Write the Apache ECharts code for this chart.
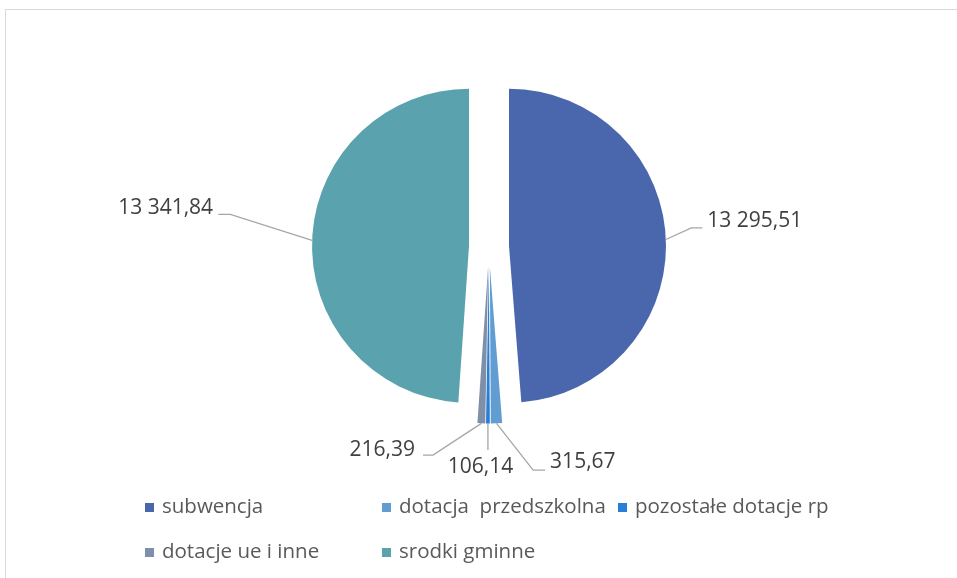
<!DOCTYPE html>
<html><head><meta charset="utf-8">
<script src="https://cdn.jsdelivr.net/npm/echarts@6/dist/echarts.min.js"></script>
<style>html,body{margin:0;padding:0;background:#fff}#c{width:957px;height:578px}</style>
</head><body><div id="c"></div>
<script>
// ---- data ----
const categories = ['subwencja', 'dotacja  przedszkolna', 'pozostałe dotacje rp', 'dotacje ue i inne', 'srodki gminne'];
const values = [13295.51, 315.67, 106.14, 216.39, 13341.84];
const colors = ['#4A66AC', '#629DD1', '#297FD5', '#7F8FA9', '#5AA2AE'];

// ---- layout / style ----
const CX = 489, CY = 246.5, R = 157, EXPLODE = 20;
const FONT = 'Open Sans';
const LABEL_COLOR = '#404040';
const LEGEND_COLOR = '#595959';
// leader line bends and label anchors, relative to the slice's outer edge point
const labelPlacement = [
  { line: [[25.5, -11.6], [36.5, -11.6]], at: [41.5, -19], align: 'left' },
  { line: [[36.6, 46.7], [48.6, 46.7]], at: [53.6, 38.7], align: 'left' },
  { line: [[0, 26.5]], at: [-7.4, 44], align: 'center' },
  { line: [[-48.3, 31.7], [-58.3, 31.7]], at: [-66.3, 26.2], align: 'right' },
  { line: [[-81.8, -26], [-93.8, -26]], at: [-99, -32], align: 'right' }
];
const legendPos = [[145, 497], [382, 497], [618, 497], [145, 542], [382, 542]];

function fmt(v) {
  const parts = v.toFixed(2).split('.');
  return parts[0].replace(/\B(?=(\d{3})+(?!\d))/g, ' ') + ',' + parts[1];
}

function makeLayout(i) {
  return function (params) {
    if (params.dataIndex !== i || !params.labelLinePoints) return {};
    const p0 = params.labelLinePoints[0];
    const pl = labelPlacement[i];
    const pts = [[p0[0], p0[1]]].concat(pl.line.map(d => [p0[0] + d[0], p0[1] + d[1]]));
    return {
      x: p0[0] + pl.at[0], y: p0[1] + pl.at[1],
      align: pl.align, verticalAlign: 'middle',
      labelLinePoints: pts
    };
  };
}

const total = values.reduce((a, b) => a + b, 0);
let acc = 0;
const series = values.map((v, i) => {
  const mid = (acc + v / 2) / total * 2 * Math.PI;
  acc += v;
  const center = [CX + EXPLODE * Math.sin(mid), CY - EXPLODE * Math.cos(mid)];
  return {
    type: 'pie',
    center: center,
    radius: R,
    startAngle: 90,
    clockwise: true,
    avoidLabelOverlap: false,
    silent: true,
    animation: false,
    itemStyle: { borderWidth: 0 },
    label: {
      position: 'outside',
      formatter: p => fmt(p.value),
      color: LABEL_COLOR,
      fontFamily: FONT,
      fontSize: 21
    },
    labelLine: { lineStyle: { color: '#A6A6A6', width: 1.3 } },
    labelLayout: makeLayout(i),
    data: categories.map((n, j) => ({
      name: n,
      value: values[j],
      itemStyle: { color: j === i ? colors[j] : 'rgba(0,0,0,0)', borderWidth: 0 },
      label: { show: j === i },
      labelLine: { show: j === i }
    }))
  };
});

const legends = categories.map((n, i) => ({
  data: [{ name: n, icon: 'rect', itemStyle: { color: colors[i] } }],
  left: legendPos[i][0],
  top: legendPos[i][1],
  padding: 0,
  itemWidth: 9,
  itemHeight: 9,
  selectedMode: false,
  textStyle: { color: LEGEND_COLOR, fontFamily: FONT, fontSize: 20.5, lineHeight: 20, padding: [0, 0, 0, 3] }
}));

const chart = echarts.init(document.getElementById('c'), null, { renderer: 'canvas' });
chart.setOption({
  backgroundColor: '#ffffff',
  animation: false,
  graphic: [{
    type: 'rect', silent: true, z: -10,
    shape: { x: 5.5, y: 9.5, width: 1000, height: 1000 },
    style: { fill: 'none', stroke: '#D9D9D9', lineWidth: 1 }
  }],
  legend: legends,
  series: series
});
</script>
</body></html>
